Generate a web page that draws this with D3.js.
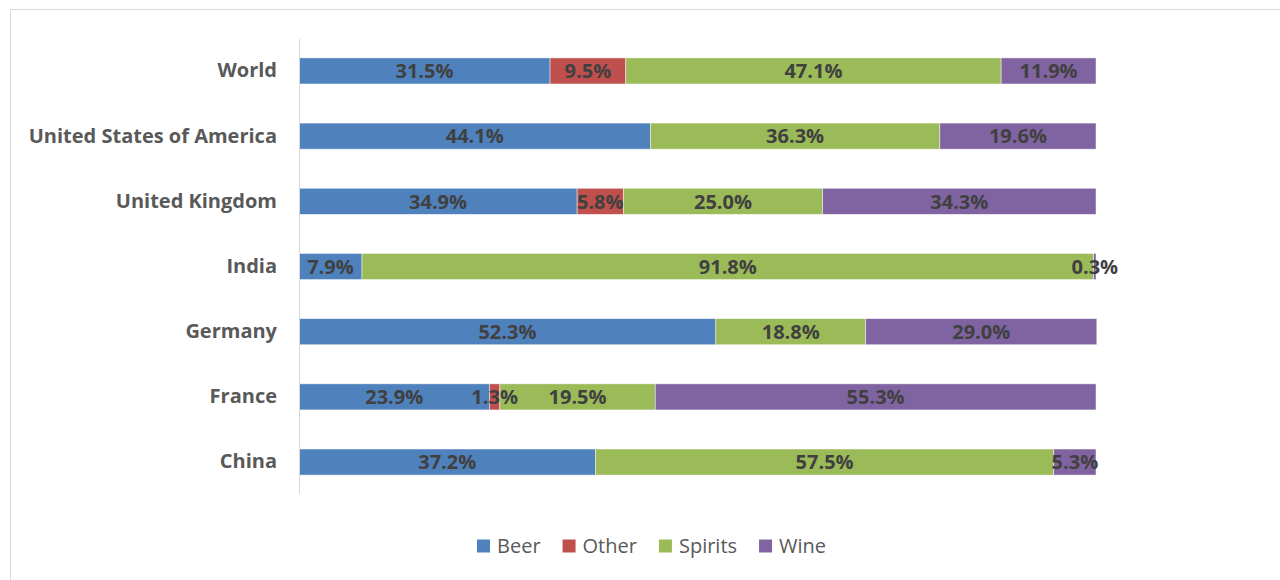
<!DOCTYPE html>
<html>
<head>
<meta charset="utf-8">
<script src="https://cdn.jsdelivr.net/npm/d3@7"></script>
<style>
  body { margin: 0; background: #fff; }
  svg { display: block; font-family: "Open Sans", sans-serif; }
</style>
</head>
<body>
<div id="chart"></div>
<script>
// Categories, top to bottom
var countries = ["World", "United States of America", "United Kingdom", "India", "Germany", "France", "China"];
var seriesNames = ["Beer", "Other", "Spirits", "Wine"];
var colors = ["#4F81BD", "#C0504D", "#9BBB59", "#8064A2"];

// Share of alcohol consumption (%) per country
var beer    = [31.5, 44.1, 34.9,  7.9, 52.3, 23.9, 37.2];
var other   = [ 9.5,  0.0,  5.8,  0.0,  0.0,  1.3,  0.0];
var spirits = [47.1, 36.3, 25.0, 91.8, 18.8, 19.5, 57.5];
var wine    = [11.9, 19.6, 34.3,  0.3, 29.0, 55.3,  5.3];

var xTicks = [0, 100];

var rows = countries.map(function (c, i) {
    return { country: c, Beer: beer[i], Other: other[i], Spirits: spirits[i], Wine: wine[i] };
});

var svg = d3.select("#chart").append("svg").attr("width", 1280).attr("height", 580);

// outer chart border
svg.append("rect")
    .attr("x", 10.5).attr("y", 9.5)
    .attr("width", 1300).attr("height", 600)
    .attr("fill", "none").attr("stroke", "#d9d9d9");

var margin = { left: 299, top: 39, right: 184, bottom: 86 };
var width = 1280 - margin.left - margin.right;
var height = 580 - margin.top - margin.bottom;

var chart = svg.append("g").attr("transform", "translate(" + margin.left + "," + margin.top + ")");

var x = d3.scaleLinear().domain(d3.extent(xTicks)).range([0, width]);
var y = d3.scaleBand().domain(countries).range([0, height]).paddingInner(0.6).paddingOuter(0.29);

var layers = d3.stack().keys(seriesNames)(rows);

// bars
var groups = chart.selectAll("g.layer")
    .data(layers)
    .enter().append("g")
    .attr("class", "layer")
    .attr("fill", function (d, i) { return colors[i]; });

groups.selectAll("rect")
    .data(function (d) { return d; })
    .enter().append("rect")
    .attr("x", function (d) { return x(d[0]); })
    .attr("y", function (d) { return y(d.data.country); })
    .attr("width", function (d) { return Math.max(0, x(d[1]) - x(d[0])); })
    .attr("height", y.bandwidth())
    .attr("stroke", "#fff")
    .attr("stroke-opacity", 0.6)
    .attr("stroke-width", 0.75);

// Y axis (just the line and labels)
var yAxis = chart.append("g").call(d3.axisLeft(y).tickSize(0).tickPadding(22));
yAxis.select(".domain").attr("stroke", "#d9d9d9").attr("d", "M0.5,0V" + height);
yAxis.selectAll("text")
    .attr("fill", "#595959")
    .attr("font-size", "20px")
    .attr("font-weight", "bold")
    .attr("font-family", "Open Sans");

// value labels, drawn above every bar
var labels = chart.append("g");
layers.forEach(function (layer) {
    labels.selectAll(null)
        .data(layer.filter(function (p) { return p[1] - p[0] > 0; }))
        .enter().append("text")
        .attr("x", function (d) { return (x(d[0]) + x(d[1])) / 2; })
        .attr("y", function (d) { return y(d.data.country) + y.bandwidth() / 2; })
        .attr("dy", "0.36em")
        .attr("text-anchor", "middle")
        .attr("fill", "#404040")
        .attr("font-size", "20px")
        .attr("font-weight", "bold")
        .text(function (d) { return (d[1] - d[0]).toFixed(1) + "%"; });
});

// legend
var legend = svg.append("g").attr("transform", "translate(0,546)");
var items = legend.selectAll("g")
    .data(seriesNames)
    .enter().append("g");

items.append("rect")
    .attr("y", -6.5)
    .attr("width", 13).attr("height", 13)
    .attr("fill", function (d, i) { return colors[i]; });

items.append("text")
    .attr("x", 20)
    .attr("dy", "0.36em")
    .attr("fill", "#595959")
    .attr("font-size", "20px")
    .text(function (d) { return d; });

var pos = 0, offsets = [];
items.each(function () {
    offsets.push(pos);
    pos += 20 + d3.select(this).select("text").node().getComputedTextLength() + 22;
});
var start = 477;
items.attr("transform", function (d, i) { return "translate(" + (start + offsets[i]) + ",0)"; });
</script>
</body>
</html>
